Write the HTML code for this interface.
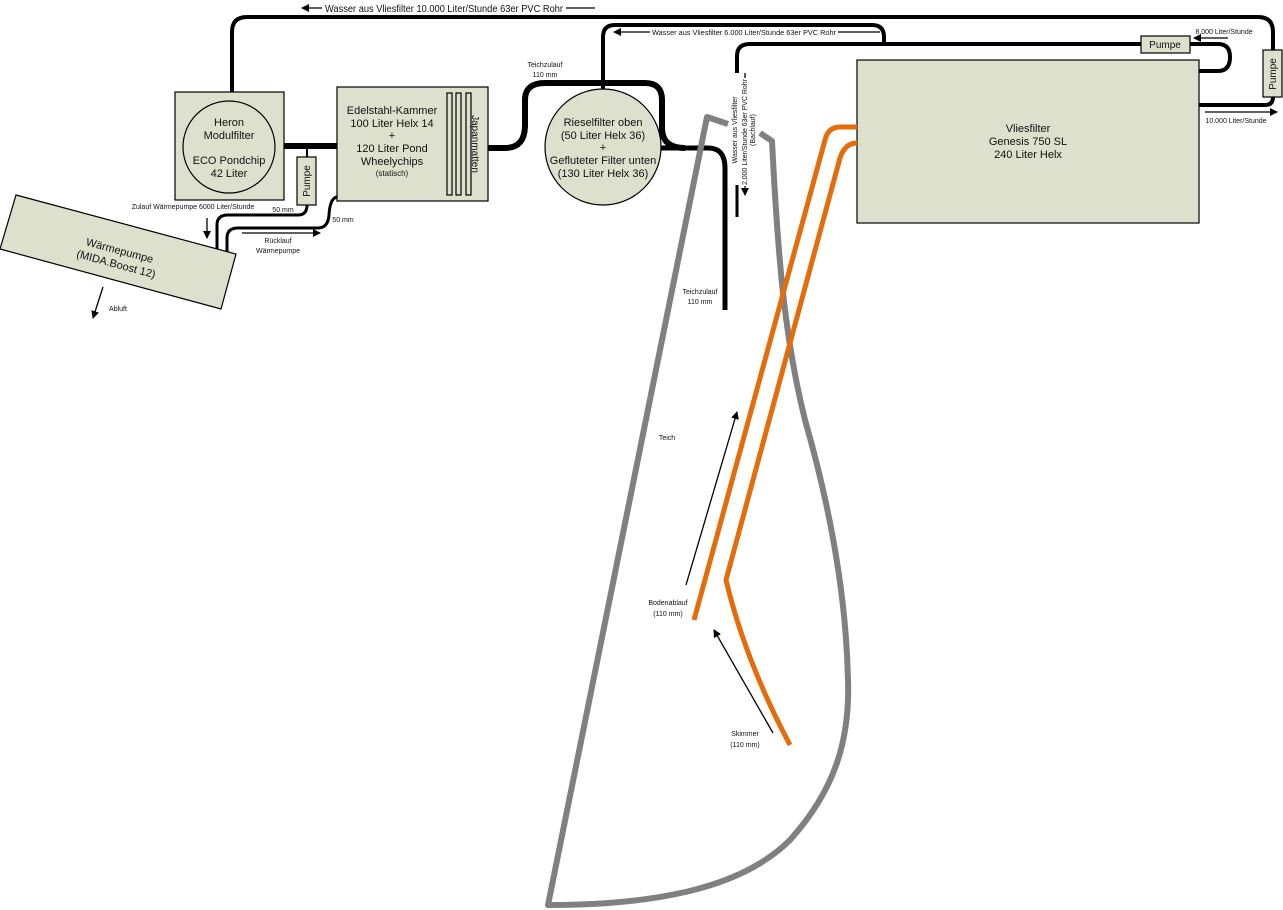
<!DOCTYPE html>
<html><head><meta charset="utf-8"><style>
html,body{margin:0;padding:0;background:#fff;}
svg{display:block;font-family:"Liberation Sans",sans-serif;}
</style></head><body>
<svg width="1283" height="910" viewBox="0 0 1283 910" xmlns="http://www.w3.org/2000/svg">
<defs>
<marker id="ah" markerWidth="8" markerHeight="8" refX="7" refY="4" orient="auto" markerUnits="userSpaceOnUse"><path d="M0,0 L8,4 L0,8 z" fill="#000"/></marker>
</defs>
<g fill="none" stroke="#000">
<path d="M232,92 V32 Q232,17 247,17 H1258 Q1273,17 1273,32 V50" stroke-width="4"/>
<path d="M1273,97 Q1273,105 1265,105 H1199" stroke-width="4"/>
<path d="M603,92 V37 Q603,25 615,25 H872 Q884,25 884,37 V42" stroke-width="4"/>
<path d="M737,73 V56 Q737,44 750,44 H1141" stroke-width="4"/>
<path d="M1190,44 H1218 Q1230,44 1230,57 Q1230,71 1218,71 H1199" stroke-width="4"/>
<path d="M488,148 H505 Q525,148 525,125 V100 Q525,83 545,83 H645 Q662,83 662,100 V128 Q662,148 685,148" stroke-width="6"/>
<path d="M660,148 H708 Q725,148 725,168 V310" stroke-width="5"/>
<path d="M284,146 H337" stroke-width="6"/>
<path d="M307,148 V157" stroke-width="2"/>
<path d="M217,250 V225 Q217,215 228,215 H298 Q307,215 307,205" stroke-width="3"/>
<path d="M227,252 V238 Q227,228 238,228 H318 Q328,228 329,215 Q330,198 337,197" stroke-width="3"/>
<path d="M737,185 V217" stroke-width="3"/>
</g>
<g stroke="#000" stroke-width="1.3" fill="none">
<path d="M322,8 H302" marker-end="url(#ah)"/>
<path d="M566,8 H595"/>
<path d="M650,32 H614" marker-end="url(#ah)"/>
<path d="M838,32 H880"/>
<path d="M1228,38 H1194" marker-end="url(#ah)"/>
<path d="M1205,112 H1277" marker-end="url(#ah)"/>
<path d="M745,73 V78"/>
<path d="M745,186 V195" marker-end="url(#ah)"/>
<path d="M207,218 V238" marker-end="url(#ah)"/>
<path d="M242,233 H320" marker-end="url(#ah)"/>
<path d="M103,287 L93,318" marker-end="url(#ah)"/>
<path d="M686,585 L737,412" marker-end="url(#ah)"/>
<path d="M773,733 L714,630" marker-end="url(#ah)"/>
</g>
<g fill="#dde0cc" stroke="#000" stroke-width="1.2">
<rect x="175" y="92" width="109" height="108"/>
<circle cx="229" cy="147" r="46"/>
<rect x="337" y="87" width="151" height="114"/>
<rect x="447" y="93" width="5" height="102"/>
<rect x="456" y="93" width="5" height="102"/>
<rect x="466" y="93" width="5" height="102"/>
<rect x="297" y="157" width="19" height="48"/>
<circle cx="603" cy="147" r="58"/>
<rect x="857" y="60" width="342" height="163"/>
<rect x="1141" y="36" width="49" height="17"/>
<rect x="1263" y="50" width="19" height="47"/>
<polygon points="16,195 236,254 221,309 0,249"/>
</g>
<g fill="none" stroke="#808080" stroke-width="6" stroke-linejoin="round">
<path d="M728,124 L707,117 L548,905 C650,905 740,890 790,840 C835,790 850,740 848,680 C846,590 828,500 805,420 C785,340 778,260 772,141 L760,133"/>
</g>
<g fill="none" stroke="#e46c0a" stroke-width="5">
<path d="M857,127 H840 Q828,127 825,140 L694,620"/>
<path d="M857,143 Q845,143 840,158 L726,580 Q745,660 790,745"/>
</g>
<g font-size="11" text-anchor="middle" fill="#111">
<text x="229" y="126">Heron</text>
<text x="229" y="139">Modulfilter</text>
<text x="229" y="164">ECO Pondchip</text>
<text x="229" y="177">42 Liter</text>
<text x="392" y="114">Edelstahl-Kammer</text>
<text x="392" y="127">100 Liter Helx 14</text>
<text x="392" y="139">+</text>
<text x="392" y="152">120 Liter Pond</text>
<text x="392" y="165">Wheelychips</text>
<text x="392" y="176" font-size="8">(statisch)</text>
<text x="603" y="126">Rieselfilter oben</text>
<text x="603" y="139">(50 Liter Helx 36)</text>
<text x="603" y="151">+</text>
<text x="603" y="164">Gefluteter Filter unten</text>
<text x="603" y="177">(130 Liter Helx 36)</text>
<text x="1028" y="132">Vliesfilter</text>
<text x="1028" y="145">Genesis 750 SL</text>
<text x="1028" y="158">240 Liter Helx</text>
<text x="1165" y="48" font-size="10">Pumpe</text>
<text transform="translate(1276,74) rotate(-90)" font-size="10">Pumpe</text>
<text transform="translate(310,181) rotate(-90)" font-size="10">Pumpe</text>
<text transform="translate(472,144) rotate(90)" font-size="10">Japanmatten</text>
<g transform="translate(118,257) rotate(15)"><text x="0" y="-3" font-size="11">Wärmepumpe</text><text x="0" y="11" font-size="11">(MIDA.Boost 12)</text></g>
<text x="444" y="12" font-size="10" textLength="238" lengthAdjust="spacingAndGlyphs">Wasser aus Vliesfilter 10.000 Liter/Stunde 63er PVC Rohr</text>
<text x="744" y="35" font-size="7" textLength="184" lengthAdjust="spacingAndGlyphs">Wasser aus Vliesfilter 6.000 Liter/Stunde 63er PVC Rohr</text>
<text x="1224" y="34" font-size="7">8.000 Liter/Stunde</text>
<text x="1236" y="123" font-size="7">10.000 Liter/Stunde</text>
<text x="545" y="67" font-size="7">Teichzulauf</text>
<text x="545" y="77" font-size="7">110 mm</text>
<text x="700" y="294" font-size="7">Teichzulauf</text>
<text x="700" y="304" font-size="7">110 mm</text>
<text x="193" y="209" font-size="7">Zulauf Wärmepumpe 6000 Liter/Stunde</text>
<text x="283" y="212" font-size="7">50 mm</text>
<text x="343" y="222" font-size="7">50 mm</text>
<text x="278" y="243" font-size="7">Rücklauf</text>
<text x="278" y="253" font-size="7">Wärmepumpe</text>
<text x="118" y="311" font-size="7">Abluft</text>
<text x="667" y="440" font-size="7">Teich</text>
<text x="668" y="605" font-size="7">Bodenablauf</text>
<text x="668" y="616" font-size="7">(110 mm)</text>
<text x="745" y="736" font-size="7">Skimmer</text>
<text x="745" y="747" font-size="7">(110 mm)</text>
<text transform="translate(737,130) rotate(-90)" font-size="7">Wasser aus Vliesfilter</text>
<text transform="translate(747,132) rotate(-90)" font-size="7" textLength="106" lengthAdjust="spacingAndGlyphs">2.000 Liter/Stunde 63er PVC Rohr</text>
<text transform="translate(755,130) rotate(-90)" font-size="7">(Bachlauf)</text>
</g>
</svg>
</body></html>
